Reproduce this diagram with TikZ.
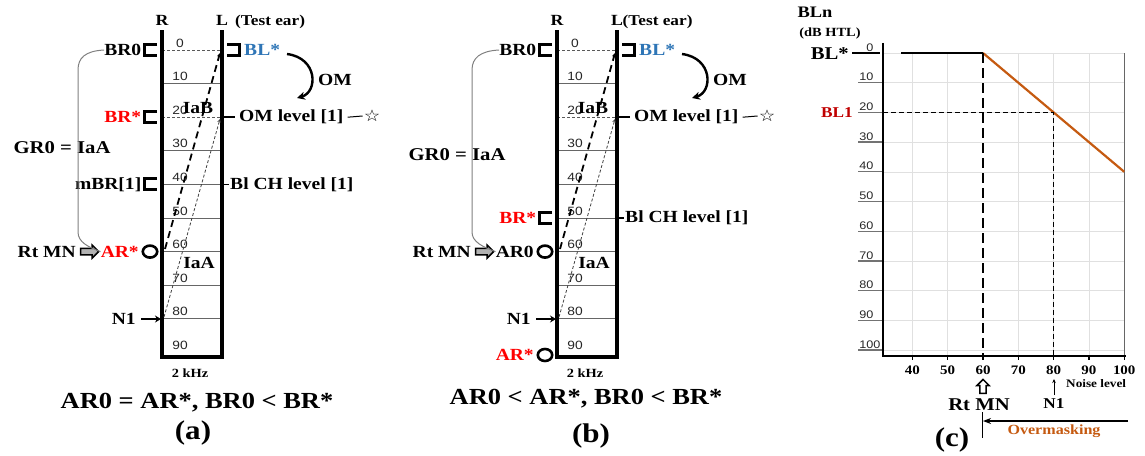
\documentclass[tikz,border=0pt]{standalone}
\usepackage{fontspec}
\setmainfont{Liberation Serif}
\setsansfont{Liberation Sans}
\newfontfamily\dejavu{DejaVu Sans}
\usetikzlibrary{arrows.meta,shapes.arrows}
\definecolor{blueL}{RGB}{46,117,182}
\definecolor{redR}{RGB}{255,0,0}
\definecolor{orng}{RGB}{197,90,17}
\definecolor{dred}{RGB}{192,0,0}
\newcommand{\fsz}[1]{\fontsize{#1}{#1}\selectfont}
\tikzset{
  txt/.style={inner sep=0pt, xscale=1.15, font=\bfseries\fsz{#1}},
  lab/.style={txt=17},
  num/.style={inner sep=0pt, xscale=1.15, font=\sffamily\fsz{12}, text=black!85},
  earline/.style={line width=3.4pt, line join=miter},
  gridln/.style={line width=1pt, black!60},
  dgrid/.style={line width=0.8pt, black!65, dash pattern=on 3pt off 2pt},
  brk/.style={line width=3pt, line join=miter},
  ring/.style={circle, draw, line width=2.6pt, minimum size=12pt, inner sep=0pt, xscale=1.2},
  grayarc/.style={line width=1pt, black!50},
  blockarrow/.style={single arrow, draw, line width=1.5pt, inner sep=2.4pt, minimum height=18pt, minimum width=13pt, single arrow head extend=3pt},
  cgrid/.style={line width=0.6pt, black!12},
}
\newcommand{\lbrk}[1]{\draw[brk] (157,#1-5.5) -- (144.5,#1-5.5) -- (144.5,#1+5.5) -- (157,#1+5.5);}
\newcommand{\earscale}[2]{%
  \foreach \yv in {83.6,150.8,184.4,218,251.6,285.2,318.8}{\draw[gridln] (162,\yv) -- (222,\yv);}
  \draw[dgrid] (162,50) -- (222,50);
  \draw[dgrid] (162,117.2) -- (222,117.2);
  \foreach \lv/\yv in {0/50,10/83.6,20/117.2,30/150.8,40/184.4,50/218,60/251.6,70/285.2,80/318.8,90/352.4}{\node[num, anchor=south] at (180,\yv-2.5) {\lv};}
  \draw[earline] (162,30) -- (162,357) -- (222,357) -- (222,30);
  \node[txt=15.5, anchor=base] (#1R) at (162,25) {R};
  \node[txt=15.5, anchor=base] (#1L) at (222,25) {L};
  \node[txt=15, anchor=base west] (#1T) at (#2,25) {(Test ear)};
  \coordinate (#1d1) at (165,249);
  \coordinate (#1d2) at (220,53);
  \draw[line width=1.8pt, dash pattern=on 7pt off 4.5pt, -{Stealth[length=4pt,width=4pt]}] (#1d1) -- (#1d2);
  \coordinate (#1d3) at (164,317);
  \coordinate (#1d4) at (220,119);
  \draw[line width=0.8pt, black!75, dash pattern=on 3pt off 2pt, -{Stealth[length=3.5pt,width=3.5pt]}] (#1d3) -- (#1d4);
  \node[txt=17] (#1iab) at (198,108) {IaB};
  \node[txt=17] (#1iaa) at (199,263) {IaA};
  \node[txt=12.5] (#1khz) at (190,373) {2 kHz};
  \lbrk{50}
  \node[lab, anchor=east] (#1br0) at (141.5,50) {BR0};
  \draw[brk] (227,44.5) -- (239.5,44.5) -- (239.5,55.5) -- (227,55.5);
  \node[lab, anchor=west, text=blueL] (#1bl) at (244,50) {BL*};
  \coordinate (#1om1) at (287,54);
  \coordinate (#1om2) at (297,98);
  \draw[line width=2.4pt, -{Stealth[length=8pt,width=8pt]}] (#1om1) .. controls (318,58) and (318,92) .. (#1om2);
  \node[lab] (#1om) at (335,80) {OM};
  \draw[line width=1.8pt] (222,117.2) -- (235,117.2);
  \node[lab, anchor=west] (#1oml) at (239,117.2) {OM level [1]};
  \node[inner sep=0pt, xscale=1.15, font=\dejavu\bfseries\fsz{16}] (#1star) at (372,116) {☆};
  \draw[line width=1pt] ([xshift=4pt]#1oml.east) -- ([xshift=-1pt]#1star.west);
  \node[lab, anchor=east] (#1n1) at (136,319) {N1};
  \draw[line width=2.4pt, -{Stealth[length=6pt,width=7pt]}] ([xshift=5pt]#1n1.east) -- (161,319);
  \node[blockarrow, fill=black!30] (#1arr) at (88,251.6) {};
  \node[lab, anchor=east] (#1rtmn) at (76,251.6) {Rt MN};
  \node[ring] (#1ring) at (150,251.6) {};
}
\begin{document}
\begin{tikzpicture}[x=1pt,y=-1pt]
\useasboundingbox (0,0) rectangle (1145,455);
% ---------- panel (a)
\earscale{a}{235}
\lbrk{117.2}
\node[lab, anchor=east, text=redR] (abrs) at (141.5,117.2) {BR*};
\lbrk{184.4}
\node[lab, anchor=east] (ambr) at (141.5,184.4) {mBR[1]};
\draw[line width=1.8pt] (222,184.4) -- (229,184.4);
\node[lab, anchor=west] (ablch) at (230,184.4) {Bl CH level [1]};
\node[lab, anchor=east, text=redR] (aars) at (139,251.6) {AR*};
\node[txt=18] (agr0) at (62,148) {GR0 = IaA};
\draw[grayarc] (abr0.west) .. controls (85,51) and (78,58) .. (78,70) -- (78,232) .. controls (78,242) and (88,247) .. (aars.west);
\node[txt=23] (capa) at (197,403) {AR0 = AR*, BR0 < BR*};
\node[txt=27] (laba) at (193,433) {(a)};
% ---------- panel (b)
\begin{scope}[xshift=395pt]
\earscale{b}{227.5}
\lbrk{218}
\node[lab, anchor=east, text=redR] (bbrs) at (141.5,218) {BR*};
\draw[line width=1.8pt] (222,218) -- (229,218);
\node[lab, anchor=west] (bblch) at (230,218) {Bl CH level [1]};
\node[lab, anchor=east] (bar0) at (139,251.6) {AR0};
\node[ring] (bring2) at (150,355) {};
\node[lab, anchor=east, text=redR] (bars) at (139,355) {AR*};
\node[txt=18] (bgr0) at (62,155) {GR0 = IaA};
\draw[grayarc] (bbr0.west) .. controls (85,51) and (77,58) .. (77,70) -- (77,232) .. controls (77,242) and (88,247) .. (bar0.west);
\end{scope}
\node[txt=23] (capb) at (586,399) {AR0 < AR*, BR0 < BR*};
\node[txt=27] (labb) at (591,436) {(b)};
% ---------- panel (c)
\begin{scope}[shift={(771.2,53)}, x=3.53pt, y=-2.97pt]
  \foreach \n in {40,50,70,80,90}{\draw[cgrid] (\n,0) -- (\n,102);}
  \foreach \lv in {0,10,...,100}{\draw[cgrid] (31.67,\lv) -- (100,\lv);}
  \draw[line width=1pt, black!60] (100,0) -- (100,102);
  \foreach \lv in {10,20,...,100}{
    \draw[line width=1.3pt, black!55] (24.6,\lv) -- (31.67,\lv);
    \node[num, font=\sffamily\fsz{11}, anchor=south west] at ([yshift=1.5pt]24.9,\lv) {\lv};}
  \foreach \n in {40,50,...,100}{
    \draw[line width=1.3pt] (\n,102) -- (\n,103.5);
    \node[txt=13] at (\n,106.8) {\n};}
  \draw[line width=2.8pt] (36.8,0) -- (60,0);
  \draw[orng, line width=2.2pt] (60,0) -- (100,40);
  \draw[line width=2.8pt, dash pattern=on 10pt off 5pt] (60,0) -- (60,102);
  \draw[line width=1.4pt, dash pattern=on 5pt off 3pt] (31.67,20) -- (80,20) -- (80,102);
  \draw[line width=2.8pt, line join=miter] (31.67,-3.4) -- (31.67,102) -- (100.5,102);
\end{scope}
\node[txt=16] (bln) at (815,12) {BLn};
\node[txt=12.5] (dbh) at (830,33) {(dB HTL)};
\node[txt=18, anchor=east] (blstar) at (849,54) {BL*};
\draw[line width=2.2pt] (852,53) -- (880,53);
\node[num, font=\sffamily\fsz{11}, anchor=south] (c0) at (870,51.5) {0};
\node[txt=15, anchor=east, text=dred] (bl1) at (853,113) {BL1};
\node[blockarrow, fill=white, shape border rotate=90, minimum height=14pt, minimum width=12pt] (cup) at (983,388) {};
\node[txt=18] (crt) at (979,405) {Rt MN};
\node[txt=15] (cn1) at (1054,404) {N1};
\coordinate (n1a) at (1054,395);
\coordinate (n1b) at (1054,379);
\draw[line width=0.9pt, -{Stealth[length=4pt,width=3.5pt]}] (n1a) -- (n1b);
\node[txt=11.5, anchor=west] (noise) at (1066,384) {Noise level};
\coordinate (ov1) at (1128,421);
\coordinate (ov2) at (983,421);
\draw[line width=1.7pt, -{Stealth[length=8pt,width=6pt]}] (ov1) -- (ov2);
\draw[line width=0.9pt] (982,412) -- (982,438);
\node[txt=14, text=orng] (overm) at (1054,431) {Overmasking};
\node[txt=27] (labc) at (952,440) {(c)};
\end{tikzpicture}
\end{document}
